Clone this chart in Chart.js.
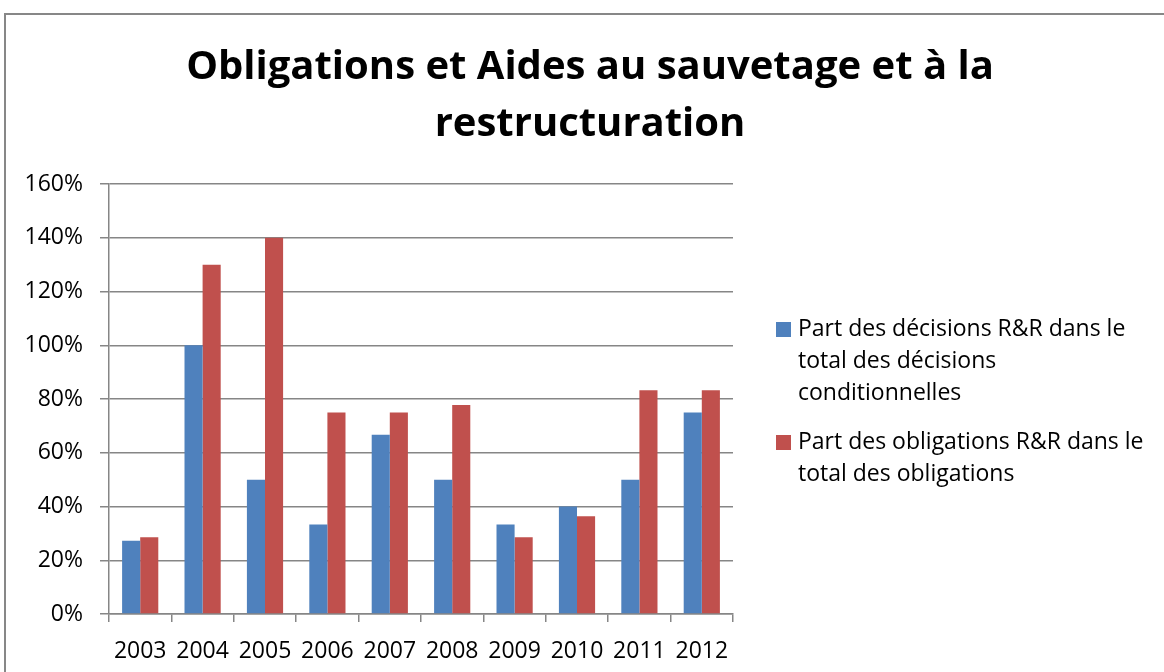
<!DOCTYPE html>
<html>
<head>
<meta charset="utf-8">
<script src="https://cdn.jsdelivr.net/npm/chart.js@4.4.1/dist/chart.umd.min.js"></script>
<style>
  html, body { margin: 0; padding: 0; background: #fff; }
  #wrap { width: 1164px; height: 672px; position: relative; }
</style>
</head>
<body>
<div id="wrap"><canvas id="chart"></canvas></div>
<script>
const years = ["2003", "2004", "2005", "2006", "2007", "2008", "2009", "2010", "2011", "2012"];
const partDecisions = [27.3, 100, 50, 33.3, 66.7, 50, 33.3, 40, 50, 75];
const partObligations = [28.6, 130, 140, 75, 75, 77.8, 28.6, 36.4, 83.3, 83.3];
const seriesNames = [
  ["Part des décisions R&R dans le", "total des décisions", "conditionnelles"],
  ["Part des obligations R&R dans le", "total des obligations"]
];
const titleLines = ["Obligations et Aides au sauvetage et à la", "restructuration"];

const FONT = "'Open Sans', 'DejaVu Sans', sans-serif";
const gridColor = "#868686";

// outer frame + title (title is centred on the whole frame, not the plot)
const framePlugin = {
  id: "frame",
  beforeDraw(chart) {
    const ctx = chart.ctx;
    ctx.save();
    ctx.fillStyle = "#fff";
    ctx.fillRect(0, 0, chart.width, chart.height);
    ctx.strokeStyle = "#878787";
    ctx.lineWidth = 2;
    ctx.strokeRect(5, 14, chart.width + 20, chart.height + 20);
    ctx.fillStyle = "#000";
    ctx.font = "bold 40px " + FONT;
    ctx.textAlign = "center";
    ctx.textBaseline = "middle";
    titleLines.forEach((line, i) => ctx.fillText(line, 590, 68 + i * 57));
    ctx.restore();
  }
};

// legend on the right, with wrapped lines like the original
const sideLegend = {
  id: "sideLegend",
  afterDraw(chart) {
    const ctx = chart.ctx;
    ctx.save();
    ctx.font = "23px " + FONT;
    ctx.textBaseline = "middle";
    ctx.textAlign = "left";
    const starts = [329, 442];
    chart.data.datasets.forEach((ds, i) => {
      const y0 = starts[i];
      ctx.fillStyle = ds.backgroundColor;
      ctx.fillRect(776, y0 - 7, 15, 15);
      ctx.fillStyle = "#000";
      seriesNames[i].forEach((line, j) => {
        ctx.fillText(line, 798, y0 + j * 32);
      });
    });
    ctx.restore();
  }
};

new Chart(document.getElementById("chart"), {
  type: "bar",
  data: {
    labels: years,
    datasets: [
      {
        label: seriesNames[0].join(" "),
        data: partDecisions,
        backgroundColor: "#4F81BD",
        borderWidth: 0,
        barPercentage: 1,
        categoryPercentage: 0.58,
      },
      {
        label: seriesNames[1].join(" "),
        data: partObligations,
        backgroundColor: "#C0504D",
        borderWidth: 0,
        barPercentage: 1,
        categoryPercentage: 0.58,
      },
    ],
  },
  options: {
    responsive: true,
    maintainAspectRatio: false,
    animation: false,
    layout: { padding: { left: 16, right: 431, top: 184, bottom: 0 } },
    plugins: {
      legend: { display: false },
      tooltip: { enabled: false },
      title: { display: false },
    },
    scales: {
      x: {
        grid: {
          display: true,
          drawOnChartArea: false,
          drawTicks: true,
          tickLength: 8,
          color: gridColor,
          lineWidth: 1.5,
        },
        border: { display: true, color: gridColor, width: 1.5 },
        ticks: {
          color: "#000",
          font: { family: FONT, size: 23 },
          padding: 16,
          maxRotation: 0,
        },
        afterFit(scale) { scale.height = 58; },
      },
      y: {
        min: 0,
        max: 160,
        ticks: {
          stepSize: 20,
          color: "#000",
          font: { family: FONT, size: 23 },
          padding: 17,
          callback: (v) => v + "%",
        },
        grid: { color: gridColor, lineWidth: 1.5, tickLength: 9 },
        border: { display: true, color: gridColor, width: 1.5 },
        afterFit(scale) { scale.width = 93; },
      },
    },
  },
  plugins: [framePlugin, sideLegend],
});
</script>
</body>
</html>
